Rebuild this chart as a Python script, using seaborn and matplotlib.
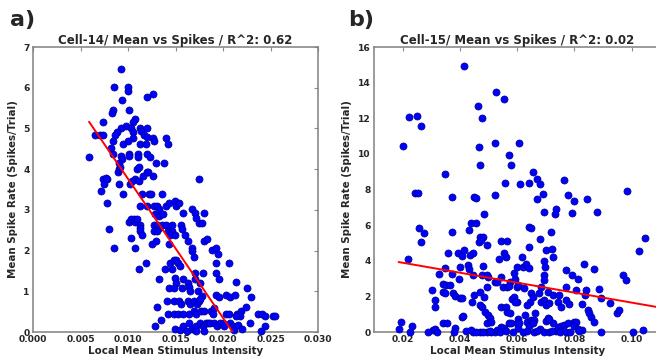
import matplotlib
matplotlib.use('Agg')
import matplotlib.pyplot as plt
import numpy as np
import pandas as pd
import seaborn as sns

# Cell-14: local mean intensity vs mean spike rate
cell14_x = [
    0.0093, 0.0085, 0.0100, 0.0100, 0.0094, 0.0120, 0.0126, 0.0084, 0.0083, 0.0101,
    0.0107, 0.0105, 0.0074, 0.0098, 0.0093, 0.0088, 0.0086, 0.0103, 0.0105, 0.0113,
    0.0114, 0.0117, 0.0120, 0.0120, 0.0065, 0.0070, 0.0074, 0.0105, 0.0100, 0.0095,
    0.0084, 0.0126, 0.0127, 0.0140, 0.0142, 0.0113, 0.0119, 0.0082, 0.0084, 0.0059,
    0.0093, 0.0094, 0.0101, 0.0101, 0.0111, 0.0111, 0.0120, 0.0123, 0.0129, 0.0138,
    0.0091, 0.0089, 0.0091, 0.0092, 0.0109, 0.0112, 0.0120, 0.0116, 0.0126, 0.0175,
    0.0074, 0.0078, 0.0107, 0.0121,
    0.0072, 0.0075, 0.0077, 0.0090, 0.0078, 0.0080, 0.0085, 0.0095, 0.0102, 0.0104,
    0.0112, 0.0115, 0.0122, 0.0124, 0.0136, 0.0113, 0.0120, 0.0127, 0.0131, 0.0133,
    0.0140, 0.0143, 0.0149, 0.0151, 0.0154, 0.0101, 0.0103, 0.0106, 0.0107, 0.0109,
    0.0113, 0.0113, 0.0113, 0.0115, 0.0103, 0.0107, 0.0119, 0.0112, 0.0125, 0.0129,
    0.0127, 0.0131, 0.0133, 0.0136, 0.0127, 0.0131, 0.0140, 0.0146, 0.0128, 0.0133,
    0.0137, 0.0142, 0.0146, 0.0144, 0.0149, 0.0156, 0.0157, 0.0160, 0.0143, 0.0158,
    0.0167, 0.0170, 0.0172, 0.0175, 0.0178, 0.0180, 0.0163, 0.0167, 0.0167, 0.0169,
    0.0180, 0.0183, 0.0188, 0.0193, 0.0195, 0.0206, 0.0193, 0.0193, 0.0196, 0.0179,
    0.0171, 0.0171, 0.0176, 0.0144, 0.0148, 0.0151, 0.0153, 0.0155, 0.0139, 0.0146,
    0.0133, 0.0149, 0.0150, 0.0158, 0.0163, 0.0164, 0.0143, 0.0148, 0.0157, 0.0165,
    0.0174, 0.0130, 0.0128, 0.0135, 0.0142, 0.0148, 0.0153, 0.0158, 0.0164, 0.0141,
    0.0148, 0.0154, 0.0156, 0.0163, 0.0165, 0.0169, 0.0173, 0.0175, 0.0178, 0.0176,
    0.0169, 0.0172, 0.0177, 0.0180, 0.0187, 0.0189, 0.0191, 0.0193, 0.0196, 0.0203,
    0.0207, 0.0213, 0.0203, 0.0206, 0.0215, 0.0219, 0.0218, 0.0214, 0.0225, 0.0229,
    0.0224, 0.0214, 0.0237, 0.0241, 0.0244, 0.0244, 0.0253, 0.0255, 0.0228,
    0.0149, 0.0155, 0.0158, 0.0164, 0.0167, 0.0172, 0.0176, 0.0179, 0.0182, 0.0184,
    0.0186, 0.0190, 0.0194, 0.0197, 0.0200, 0.0201, 0.0207, 0.0211, 0.0212, 0.0216,
    0.0220, 0.0240, 0.0172, 0.0180, 0.0162,
]
cell14_y = [
    6.47, 6.01, 6.01, 5.93, 5.70, 5.77, 5.85, 5.45, 5.38, 5.46,
    5.24, 5.16, 5.16, 5.07, 5.00, 4.92, 4.85, 5.00, 4.91, 5.00,
    4.93, 4.85, 4.78, 5.01, 4.85, 4.85, 4.85, 4.77, 4.68, 4.61,
    4.68, 4.77, 4.69, 4.77, 4.61, 4.61, 4.61, 4.52, 4.38, 4.31,
    4.32, 4.25, 4.38, 4.32, 4.38, 4.31, 4.38, 4.30, 4.15, 4.15,
    4.15, 3.93, 4.00, 4.06, 4.00, 4.06, 3.93, 3.84, 3.84, 3.76,
    3.76, 3.76, 3.76, 3.93,
    3.47, 3.64, 3.78, 3.64, 3.16, 2.54, 2.07, 3.40, 3.64, 3.70,
    3.70, 3.40, 3.40, 3.40, 3.40, 3.09, 3.09, 3.09, 3.09, 3.03,
    3.09, 3.16, 3.23, 3.09, 3.16, 2.71, 2.78, 2.78, 2.71, 2.78,
    2.62, 2.55, 2.48, 2.39, 2.31, 2.07, 1.70, 1.54, 2.15, 2.23,
    2.62, 2.62, 2.55, 2.62, 2.47, 2.47, 2.62, 2.62, 2.91, 2.85,
    2.91, 2.47, 2.47, 2.39, 2.39, 2.62, 2.54, 2.39, 2.15, 2.92,
    3.01, 2.92, 2.80, 2.69, 2.69, 2.93, 2.23, 2.07, 1.99, 1.85,
    2.23, 2.29, 2.01, 2.07, 1.92, 1.69, 1.69, 1.44, 1.29, 1.45,
    1.45, 1.29, 1.21, 1.69, 1.78, 1.78, 1.69, 1.61, 1.54, 1.54,
    1.29, 1.32, 1.21, 1.29, 1.21, 1.10, 1.08, 1.08, 1.08, 1.00,
    1.00, 0.61, 0.14, 0.30, 0.45, 0.45, 0.45, 0.45, 0.45, 0.76,
    0.76, 0.76, 0.68, 0.76, 0.68, 0.76, 0.68, 0.76, 0.88, 0.81,
    0.52, 0.45, 0.52, 0.52, 0.52, 0.45, 0.58, 0.91, 0.85, 0.91,
    0.85, 0.91, 0.45, 0.45, 0.45, 0.52, 0.39, 0.39, 1.08, 0.85,
    0.62, 1.22, 0.44, 0.44, 0.39, 0.15, 0.39, 0.39, 0.22,
    0.07, 0.06, 0.14, 0.22, 0.07, 0.14, 0.22, 0.14, 0.22, 0.22,
    0.22, 0.22, 0.14, 0.22, 0.22, 0.14, 0.22, 0.14, 0.06, 0.18,
    0.07, 0.02, 0.02, 0.02, 0.02,
]

# Cell-15
cell15_x = [
    0.0203, 0.0224, 0.0249, 0.0266, 0.0413, 0.0465, 0.0477, 0.0468, 0.0526, 0.0553,
    0.0521, 0.0606, 0.0571,
    0.0218, 0.0186, 0.0193, 0.0233, 0.0226, 0.0305, 0.0313, 0.0340, 0.0356, 0.0383,
    0.0406, 0.0412, 0.0446, 0.0470, 0.0493, 0.0510, 0.0522, 0.0530, 0.0545, 0.0553,
    0.0572, 0.0577, 0.0586, 0.0598, 0.0603,
    0.0470, 0.0476, 0.0487, 0.0499, 0.0496, 0.0504, 0.0510, 0.0545, 0.0560, 0.0565,
    0.0574, 0.0583, 0.0598,
    0.0301, 0.0313, 0.0313, 0.0340, 0.0348, 0.0377, 0.0384, 0.0402, 0.0409, 0.0450,
    0.0441, 0.0472, 0.0485, 0.0493, 0.0499, 0.0522, 0.0530, 0.0549, 0.0545, 0.0563,
    0.0574, 0.0572, 0.0592, 0.0598, 0.0603,
    0.0327, 0.0348, 0.0372, 0.0398, 0.0402, 0.0429, 0.0432, 0.0446, 0.0479, 0.0481,
    0.0495, 0.0360, 0.0394, 0.0409, 0.0414, 0.0435, 0.0446, 0.0535, 0.0553, 0.0560,
    0.0598, 0.0545, 0.0566, 0.0467, 0.0472, 0.0481, 0.0475, 0.0493, 0.0440, 0.0456,
    0.0432, 0.0371, 0.0266, 0.0276, 0.0256, 0.0483, 0.0373, 0.0449, 0.0458, 0.0522,
    0.0243, 0.0255, 0.0348, 0.0470, 0.0577, 0.0559, 0.0340, 0.0352, 0.0366,
    0.0656, 0.0611, 0.0642, 0.0669, 0.0681, 0.0689, 0.0671, 0.0695, 0.0735, 0.0733,
    0.0762, 0.0778, 0.0797, 0.0790, 0.0843, 0.0877, 0.0983,
    0.0642, 0.0648, 0.0681, 0.0718, 0.0616, 0.0642, 0.0700, 0.0720, 0.0726, 0.0692,
    0.0697, 0.0695, 0.0695, 0.0619, 0.0631, 0.0642, 0.0590, 0.0772, 0.0790, 0.0811,
    0.0834, 0.0869, 0.0968, 0.0979, 0.1026, 0.1045,
    0.0590, 0.0593, 0.0625, 0.0648, 0.0646, 0.0636, 0.0654, 0.0683, 0.0677, 0.0683,
    0.0695, 0.0700, 0.0706, 0.0712, 0.0724, 0.0747, 0.0741, 0.0753, 0.0770, 0.0782,
    0.0772, 0.0805, 0.0828, 0.0838, 0.0840, 0.0886, 0.0892, 0.0923,
    0.0602, 0.0607, 0.0636, 0.0642, 0.0650, 0.0660, 0.0662, 0.0627, 0.0654, 0.0681,
    0.0695, 0.0699, 0.0706, 0.0712, 0.0726, 0.0735, 0.0741, 0.0753, 0.0764, 0.0779,
    0.0797, 0.0805, 0.0799, 0.0814, 0.0828, 0.0846, 0.0851, 0.0857, 0.0867, 0.0894,
    0.0950, 0.0954, 0.1005, 0.1041,
    0.0480, 0.0505, 0.0540, 0.0560, 0.0620, 0.0635, 0.0660, 0.0670, 0.0710, 0.0720,
    0.0750, 0.0770, 0.0785, 0.0815, 0.0290, 0.0320, 0.0380, 0.0420, 0.0440, 0.0455,
]
cell15_y = [
    10.47, 12.09, 12.15, 11.55, 14.93, 12.71, 12.02, 10.39, 13.50, 13.08,
    10.60, 10.60, 9.93,
    4.12, 0.15, 0.56, 0.35, 0.00, 0.11, 0.18, 0.48, 0.48, 0.20,
    0.86, 0.90, 0.01, 0.00, 0.00, 0.00, 0.01, 0.11, 0.29, 0.20,
    0.48, 0.52, 0.01, 0.48, 0.20,
    1.51, 1.42, 1.14, 0.95, 0.48, 0.76, 0.58, 1.42, 1.42, 1.14,
    1.04, 1.83, 1.70,
    2.36, 1.79, 1.42, 2.26, 2.17, 2.17, 2.02, 1.89, 1.89, 2.07,
    1.70, 2.26, 1.98, 2.54, 3.07, 2.79, 2.79, 2.54, 3.10, 2.54,
    2.82, 2.58, 2.95, 2.54, 2.64,
    3.25, 3.57, 3.25, 2.95, 3.67, 3.76, 3.52, 3.20, 3.20, 3.70,
    3.20, 4.42, 4.42, 4.27, 4.60, 4.32, 4.42, 4.12, 4.42, 4.19,
    3.67, 5.13, 5.13, 5.07, 5.31, 5.35, 5.16, 4.88, 6.14, 6.10,
    5.73, 5.63, 5.07, 5.54, 5.82, 6.63, 7.60, 7.60, 7.50, 7.69,
    7.79, 7.79, 8.85, 9.38, 9.38, 8.39, 2.72, 2.65, 2.65,
    8.99, 8.31, 8.39, 8.59, 8.31, 7.75, 7.45, 6.76, 6.89, 6.63,
    8.54, 7.69, 7.36, 6.70, 7.45, 6.76, 7.92,
    5.88, 5.82, 5.20, 5.61, 4.19, 4.75, 4.60, 4.64, 4.19, 3.98,
    3.67, 3.20, 2.92, 3.67, 3.82, 3.57, 3.29, 3.48, 3.20, 2.97,
    3.82, 3.52, 3.20, 2.92, 4.55, 5.28,
    1.98, 1.70, 2.45, 2.17, 1.70, 1.51, 1.98, 2.54, 2.17, 1.70,
    1.79, 1.51, 2.26, 1.61, 2.07, 2.07, 1.70, 1.42, 1.79, 1.57,
    2.51, 2.36, 1.57, 2.07, 2.36, 2.41, 1.89, 1.64,
    0.71, 0.52, 0.56, 0.35, 0.67, 0.67, 1.08, 0.95, 0.48, 0.18,
    0.01, 0.61, 0.76, 0.71, 0.48, 0.07, 0.29, 0.35, 0.41, 0.48,
    0.59, 0.57, 0.35, 0.16, 0.11, 1.23, 1.08, 0.86, 0.56, 0.01,
    1.04, 1.23, 0.01, 0.11,
    0.02, 0.05, 0.00, 0.03, 0.00, 0.05, 0.00, 0.04, 0.00, 0.03,
    0.00, 0.02, 0.00, 0.03, 0.00, 0.02, 0.00, 0.03, 0.12, 0.00,
]

# regression lines (slope, intercept)
fit14 = (-341.7, 7.18)
fit15 = (-28.0, 4.45)

titles = ['Cell-14/ Mean vs Spikes / R^2: 0.62', 'Cell-15/ Mean vs Spikes / R^2: 0.02']

sns.set_theme(style='white')
plt.rcParams['font.family'] = ['DejaVu Sans']
plt.rcParams['font.weight'] = 'bold'

fig = plt.figure(figsize=(6.56, 3.58), dpi=100)
ax1 = fig.add_axes([0.0503, 0.0726, 0.4345, 0.796])
ax2 = fig.add_axes([0.570, 0.0726, 0.4367, 0.796])

df14 = pd.DataFrame({'x': cell14_x, 'y': cell14_y})
df15 = pd.DataFrame({'x': cell15_x, 'y': cell15_y})

for ax, df, fit, title, line_end in [(ax1, df14, fit14, titles[0], max(cell14_x)),
                                     (ax2, df15, fit15, titles[1], 0.115)]:
    sns.scatterplot(data=df, x='x', y='y', ax=ax, color='#0000ff', s=26,
                    edgecolor='#00008a', linewidth=0.5, zorder=3, clip_on=False)
    xs = np.array([df['x'].min(), line_end])
    ax.plot(xs, fit[0] * xs + fit[1], color='red', lw=1.4, zorder=4)
    ax.set_title(title, fontsize=8.5, fontweight='bold', pad=2.5)
    ax.set_xlabel('Local Mean Stimulus Intensity', fontsize=7.4, fontweight='bold', labelpad=1)
    ax.set_ylabel('Mean Spike Rate (Spikes/Trial)', fontsize=7.4, fontweight='bold', labelpad=4)
    ax.tick_params(direction='in', top=True, right=True, length=3, width=0.8,
                   color='0.55', labelsize=6.6, pad=2.5)
    for sp in ax.spines.values():
        sp.set_color('0.5')
        sp.set_linewidth(1.1)

ax1.set_xlim(0, 0.03)
ax1.set_ylim(0, 7)
ax1.set_xticks(np.arange(0, 0.0301, 0.005))
ax1.set_xticklabels(['%.3f' % v for v in np.arange(0, 0.0301, 0.005)], fontweight='bold')
ax1.set_yticks(range(0, 8))
ax1.set_yticklabels([str(v) for v in range(0, 8)], fontweight='bold')

ax2.set_xlim(0.01, 0.11)
ax2.set_ylim(0, 16)
ax2.set_xticks([0.02, 0.04, 0.06, 0.08, 0.10])
ax2.set_xticklabels(['0.02', '0.04', '0.06', '0.08', '0.10'], fontweight='bold')
ax2.set_yticks(range(0, 17, 2))
ax2.set_yticklabels([str(v) for v in range(0, 17, 2)], fontweight='bold')

fig.text(0.016, 0.945, 'a)', fontsize=16, fontweight='bold', va='center')
fig.text(0.530, 0.945, 'b)', fontsize=16, fontweight='bold', va='center')

fig.savefig('out.png', dpi=100)
